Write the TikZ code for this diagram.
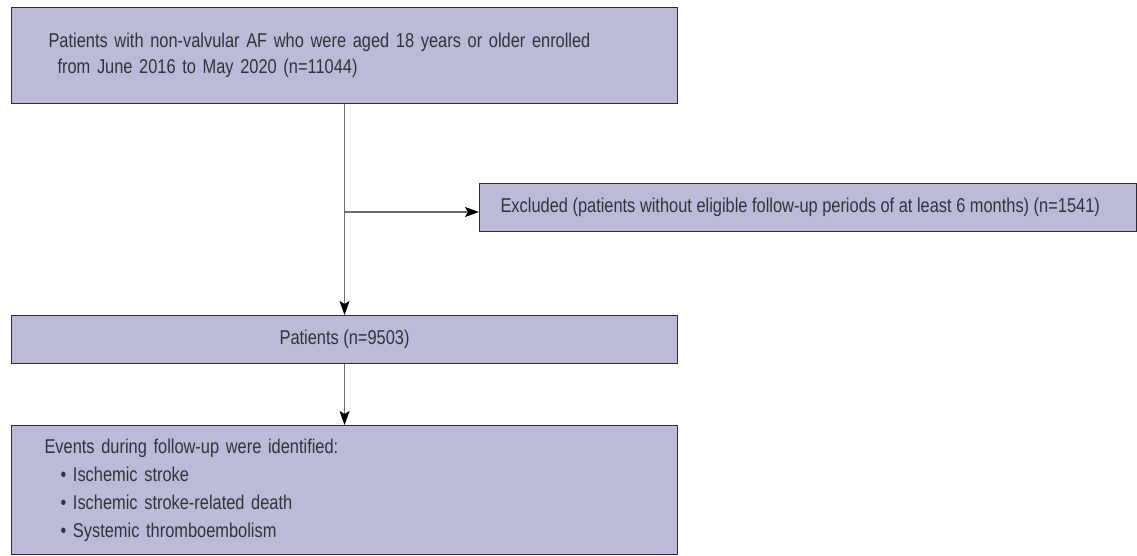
\documentclass[tikz,border=0pt]{standalone}
\usepackage{fontspec}
\setmainfont{Liberation Sans}[FakeStretch=0.82]
\usetikzlibrary{arrows.meta}
\definecolor{boxfill}{RGB}{187,187,217}
\definecolor{txt}{RGB}{50,50,55}
\definecolor{edge}{RGB}{45,45,50}
\definecolor{linec}{RGB}{110,110,110}
\begin{document}
\begin{tikzpicture}[x=1pt,y=-1pt,
  box/.style={draw=edge, line width=1.1pt, fill=boxfill, text=txt, rectangle,
    inner ysep=0pt, font=\fontsize{20}{26}\selectfont},
  conn/.style={draw=linec, line width=1.1pt,
    -{Stealth[length=14pt,width=10pt,inset=3pt,color=black]}}]
\useasboundingbox (0,0) rectangle (1137,556);
\node[box, anchor=north west, minimum width=666pt, minimum height=96pt,
  text width=592pt, inner xsep=37pt, align=left] (top) at (11,7)
  {Patients with non-valvular AF who were aged 18 years or older enrolled\\
   \hspace*{9pt}from June 2016 to May 2020 (n=11044)};
\node[box, anchor=north west, minimum width=657pt, minimum height=48pt,
  inner xsep=21pt] (excl) at (479,183)
  {\makebox[615pt][l]{Excluded (patients without eligible follow-up periods of at least 6 months) (n=1541)}};
\node[box, anchor=north west, minimum width=666pt, minimum height=48pt] (pat) at (11,315)
  {Patients (n=9503)};
\node[box, anchor=north west, minimum width=666pt, minimum height=129pt,
  text width=600pt, inner xsep=33pt, align=left, font=\fontsize{20}{28}\selectfont] (ev) at (11,425)
  {Events during follow-up were identified:\\
   \hspace*{16pt}• Ischemic stroke\\
   \hspace*{16pt}• Ischemic stroke-related death\\
   \hspace*{16pt}• Systemic thromboembolism};
\coordinate (br) at (344,212);
\draw[conn] (top.south) -- (pat.north);
\draw[conn] (br) -- (br -| excl.west);
\draw[conn] (pat.south) -- (ev.north);
\end{tikzpicture}
\end{document}
